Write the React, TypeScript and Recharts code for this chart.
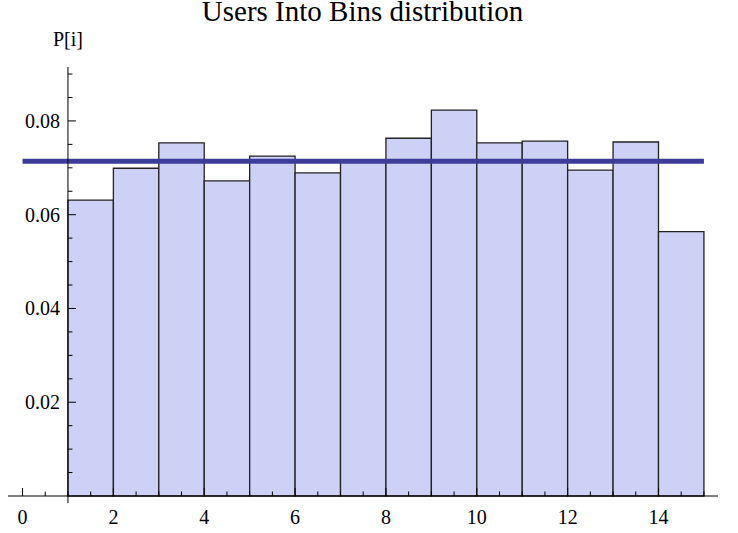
import React from "react";
import {
  ComposedChart,
  XAxis,
  YAxis,
  Line,
  ReferenceArea,
  ReferenceLine,
} from "recharts";

const SERIF = '"Liberation Serif", "Times New Roman", serif';

// histogram bins (left / right edges) and the measured probability per bin
const binStarts = [1, 2, 3, 4, 5, 6, 7, 8, 9, 10, 11, 12, 13, 14];
const binEnds = [2, 3, 4, 5, 6, 7, 8, 9, 10, 11, 12, 13, 14, 15];
const probabilities = [
  0.0631, 0.0699, 0.0753, 0.0672, 0.0725, 0.0689, 0.0713, 0.0763, 0.0823,
  0.0753, 0.0757, 0.0695, 0.0755, 0.0564,
];

// uniform reference level (1/14)
const uniformX = [0, 15];
const uniformP = [0.0714, 0.0714];

const xTicks = [
  0, 0.5, 1, 1.5, 2, 2.5, 3, 3.5, 4, 4.5, 5, 5.5, 6, 6.5, 7, 7.5, 8, 8.5, 9,
  9.5, 10, 10.5, 11, 11.5, 12, 12.5, 13, 13.5, 14, 14.5, 15,
];
const xLabels = [0, 2, 4, 6, 8, 10, 12, 14];
const yTicks = [
  0.005, 0.01, 0.015, 0.02, 0.025, 0.03, 0.035, 0.04, 0.045, 0.05, 0.055, 0.06,
  0.065, 0.07, 0.075, 0.08, 0.085, 0.09,
];
const yLabels = ["0.02", "0.04", "0.06", "0.08"];

const uniformData = uniformX.map((x, i) => ({ x, p: uniformP[i] }));

function XTick(props: any) {
  const { x, y, payload } = props;
  const v = payload.value;
  const major = xLabels.includes(v);
  return (
    <g>
      <line x1={x} x2={x} y1={y} y2={y - (major ? 8 : 4.5)} stroke="#000" strokeWidth={1} />
      {major && (
        <text x={x} y={y + 27.5} textAnchor="middle" style={{ fontFamily: SERIF }} fontSize={20} fill="#000">
          {v}
        </text>
      )}
    </g>
  );
}

function yTickShape(label: string | null) {
  return (p: any) => (
    <g>
      <line x1={p.x1} x2={p.x1 + (label ? 8 : 4.5)} y1={p.y1} y2={p.y1} stroke="#000" strokeWidth={1} />
      {label && (
        <text x={p.x1 - 8} y={p.y1} dy="0.35em" textAnchor="end" style={{ fontFamily: SERIF }} fontSize={20} fill="#000">
          {label}
        </text>
      )}
    </g>
  );
}

function yAxisShape(p: any) {
  return (
    <g>
      <line x1={p.x1} x2={p.x2} y1={p.y1} y2={p.y2} stroke="#000" strokeWidth={1} />
      <text x={p.x2} y={Math.min(p.y1, p.y2) - 21} textAnchor="middle" style={{ fontFamily: SERIF }} fontSize={20} fill="#000">
        P[i]
      </text>
    </g>
  );
}

export default function App() {
  return (
    <div style={{ position: "relative", width: 738, height: 533 }}>
      <style>{"body{margin:0;overflow:hidden}"}</style>
      <ComposedChart
        width={738}
        height={533}
        data={uniformData}
        margin={{ top: 67, right: 20, bottom: 0, left: 8 }}
      >
        <text
          x={362.5}
          y={20.5}
          textAnchor="middle"
          style={{ fontFamily: SERIF }}
          fontSize={29}
          fill="#000"
        >
          Users Into Bins distribution
        </text>
        <XAxis
          type="number"
          dataKey="x"
          domain={[-0.32, 15.31]}
          allowDataOverflow
          ticks={xTicks}
          interval={0}
          tick={<XTick />}
          tickLine={false}
          tickSize={0}
          tickMargin={0}
          height={37}
          axisLine={{ stroke: "#000", strokeWidth: 1 }}
        />
        <YAxis type="number" domain={[0, 0.0915]} allowDataOverflow hide />
        {binStarts.map((b, i) => (
          <ReferenceArea
            key={b}
            x1={b}
            x2={binEnds[i]}
            y1={0}
            y2={probabilities[i]}
            fill="#ccd1f5"
            fillOpacity={1}
            stroke="#222"
            strokeWidth={1.3}
          />
        ))}
        <Line
          dataKey="p"
          stroke="#3d3d99"
          strokeWidth={5}
          dot={false}
          activeDot={false}
          isAnimationActive={false}
        />
        <ReferenceLine
          segment={[
            { x: 1, y: -0.0015 },
            { x: 1, y: 0.0915 },
          ]}
          ifOverflow="visible"
          shape={yAxisShape}
        />
        {yTicks.map((t) => {
          const label = yLabels.find((l) => Number(l) === t) || null;
          return (
            <ReferenceLine
              key={t}
              segment={[
                { x: 1, y: t },
                { x: 15, y: t },
              ]}
              shape={yTickShape(label)}
            />
          );
        })}
      </ComposedChart>
    </div>
  );
}
